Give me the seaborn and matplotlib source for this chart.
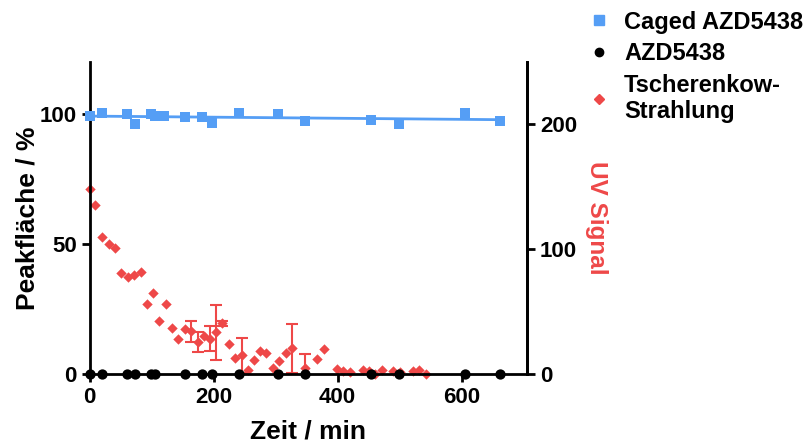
import numpy as np
import pandas as pd
import matplotlib
matplotlib.use("Agg")
import matplotlib.pyplot as plt
from matplotlib.lines import Line2D
import seaborn as sns

sns.set_style("ticks")
plt.rcParams['font.family'] = ['Liberation Sans', 'DejaVu Sans']
plt.rcParams['font.weight'] = 'bold'
for k in ['text.color', 'axes.labelcolor', 'xtick.color', 'ytick.color', 'axes.edgecolor']:
    plt.rcParams[k] = 'black'

# Caged AZD5438 (left axis, %)
caged_t = [0, 20, 60, 73, 99, 106, 120, 154, 181, 197, 241, 304, 348, 454, 499, 605, 662]
caged_y = [99.2, 100.5, 99.9, 96.3, 99.9, 99.1, 99.3, 98.8, 98.8, 96.4, 100.5, 99.9, 97.3, 97.8, 96.3, 100.4, 97.3]

# AZD5438 (left axis, %)
azd_t = [0, 20, 60, 73, 99, 106, 154, 181, 197, 241, 304, 348, 454, 499, 605, 662]
azd_y = [0] * len(azd_t)

# Tscherenkow-Strahlung (right axis, UV signal)
uv_t = [0, 9, 20, 31, 41, 51, 61, 72, 82, 92, 102, 112, 123, 133, 143, 154, 164, 174,
        184, 194, 204, 214, 225, 234, 245, 255, 265, 275, 285, 296, 306, 317, 327, 348,
        367, 378, 399, 409, 420, 441, 451, 461, 471, 490, 500, 521, 532, 542]
uv_y = [148, 135.5, 110, 104, 101, 81, 78, 79, 82, 56, 65, 42, 56, 37, 28, 36, 34, 25.7,
        30, 28, 33.5, 40.5, 24, 13, 15, 3, 11, 18, 16.5, 5, 10.5, 17, 20.5, 5,
        12, 20, 4, 2, 1.4, 3, 2, 0, 3, 2.7, 1.6, 2, 3, 0]
uv_err = [0, 0, 0, 0, 0, 0, 0, 0, 0, 0, 0, 0, 0, 0, 0, 0, 8.5, 8,
          0, 10, 22, 2, 0, 0, 14, 0, 0, 0, 0, 0, 0, 0, 19.5, 11,
          0, 0, 0, 0, 0, 0, 0, 0, 0, 0, 0, 0, 0, 0]

blue = "#559EF5"
red = "#EE4848"

caged = pd.DataFrame({"t": caged_t, "y": caged_y})
azd = pd.DataFrame({"t": azd_t, "y": azd_y})
uv = pd.DataFrame({"t": uv_t, "y": uv_y, "err": uv_err})

fig = plt.figure(figsize=(8.09, 4.43), dpi=100)
ax = fig.add_axes([0.111, 0.156, 0.540, 0.704])
ax2 = ax.twinx()

# right axis: UV signal with error bars
err = uv[uv["err"] > 0]
ax2.errorbar(err["t"], err["y"], yerr=err["err"], fmt="none", ecolor=red,
             elinewidth=1.5, capsize=4, capthick=1.5, zorder=2)
sns.scatterplot(data=uv, x="t", y="y", ax=ax2, marker="D", s=28, color=red,
                edgecolor=red, linewidth=0, clip_on=False, zorder=3)

# left axis: caged compound with linear fit, AZD5438
sns.regplot(data=caged, x="t", y="y", ax=ax, ci=None, scatter=False,
            line_kws={"color": blue, "lw": 2})
sns.scatterplot(data=caged, x="t", y="y", ax=ax, marker="s", s=60, color=blue,
                edgecolor=blue, linewidth=0, clip_on=False, zorder=4)
sns.scatterplot(data=azd, x="t", y="y", ax=ax, marker="o", s=55, color="black",
                edgecolor="black", linewidth=0, clip_on=False, zorder=5)

ax.set_zorder(ax2.get_zorder() + 1)
ax.patch.set_visible(False)

ax.set_xlim(0, 705)
ax.set_ylim(0, 120)
ax2.set_ylim(0, 250)
ax.set_xticks([0, 200, 400, 600])
ax.set_yticks([0, 50, 100])
ax2.set_yticks([0, 100, 200])

ax.set_xlabel("Zeit / min", fontsize=19, fontweight="bold", labelpad=8)
ax.set_ylabel("Peakfläche / %", fontsize=19, fontweight="bold", labelpad=0)
ax2.set_ylabel("UV Signal", fontsize=17.5, fontweight="bold", color=red,
               rotation=270, labelpad=22)

for a in (ax, ax2):
    a.spines["top"].set_visible(False)
    for s in a.spines.values():
        s.set_linewidth(2)
    a.tick_params(width=2, length=6, labelsize=16)
    for lab in a.get_xticklabels() + a.get_yticklabels():
        lab.set_fontweight("bold")
ax2.spines["left"].set_visible(False)
ax2.spines["bottom"].set_visible(False)

handles = [
    Line2D([], [], ls="none", marker="s", ms=7, color=blue, mec=blue),
    Line2D([], [], ls="none", marker="o", ms=6, color="black"),
    Line2D([], [], ls="none", marker="D", ms=5, color=red, mec=red),
]
labels = ["Caged AZD5438", "AZD5438", "Tscherenkow-\nStrahlung"]
fig.legend(handles, labels, loc="upper left", bbox_to_anchor=(0.70, 1.024),
           frameon=False, handlelength=1.0, handletextpad=0.55, labelspacing=0.36,
           prop={"size": 17, "weight": "bold"})

fig.savefig("out.png", dpi=100)
